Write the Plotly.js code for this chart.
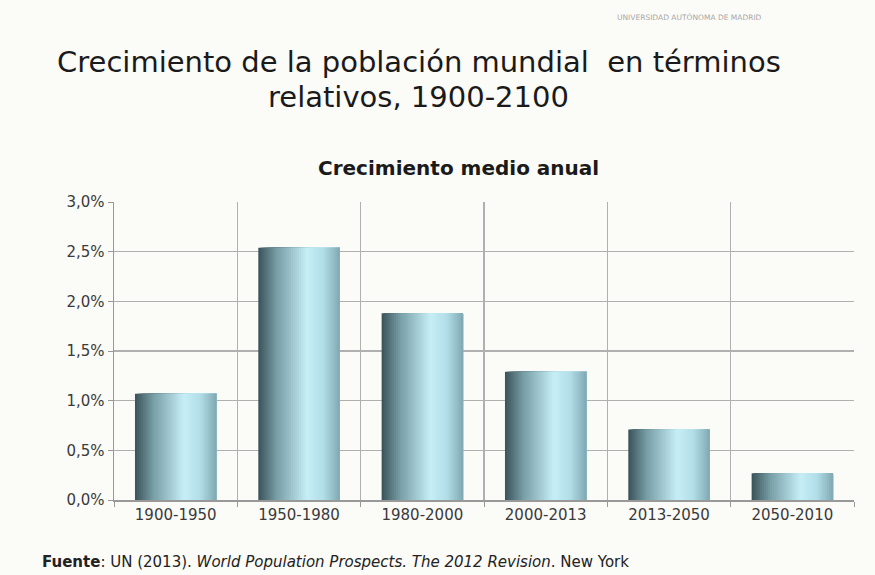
<!DOCTYPE html>
<html>
<head>
<meta charset="utf-8">
<script src="https://cdn.plot.ly/plotly-3.0.1.min.js"></script>
<style>
html,body{margin:0;padding:0;background:#fbfbf8;}
#chart{width:875px;height:575px;}
</style>
</head>
<body>
<div id="chart"></div>
<script>
// Data
const periods = ["1900-1950","1950-1980","1980-2000","2000-2013","2013-2050","2050-2010"];
const growthPct = [1.07, 2.54, 1.88, 1.29, 0.71, 0.27];
const yTickVals = [0, 0.5, 1.0, 1.5, 2.0, 2.5, 3.0];
const yTickLabels = ["0,0%","0,5%","1,0%","1,5%","2,0%","2,5%","3,0%"];

// Gradient stops across bar width (dark left -> light -> mid right)
function lerp(a,b,t){return Math.round(a+(b-a)*t);}
function gradColor(t){
  const stops=[[0,[58,82,88]],[0.22,[118,156,164]],[0.6,[198,238,246]],[0.8,[178,222,232]],[1,[128,168,178]]];
  for(let k=0;k<stops.length-1;k++){
    const [t0,c0]=stops[k],[t1,c1]=stops[k+1];
    if(t>=t0&&t<=t1){const u=(t-t0)/(t1-t0);return `rgb(${lerp(c0[0],c1[0],u)},${lerp(c0[1],c1[1],u)},${lerp(c0[2],c1[2],u)})`;}
  }
  return 'rgb(128,168,178)';
}
const N=40, barW=0.66, stripW=barW/N;
const traces=[];
for(let i=0;i<N;i++){
  traces.push({
    type:'bar', x:periods, y:growthPct,
    width:barW-i*stripW, offset:-barW/2+i*stripW,
    marker:{color:gradColor((i+0.5)/N), line:{width:0}},
    hoverinfo:'skip', showlegend:false
  });
}

const F='DejaVu Sans, Verdana, sans-serif';
const W=740;
function px(x){return (x-114)/W;}
const layout={
  width:875,height:575,
  paper_bgcolor:'#fbfbf8',plot_bgcolor:'#fbfbf8',
  margin:{l:114,r:21,t:202,b:75},
  barmode:'overlay',
  font:{family:F,color:'#333'},
  xaxis:{
    type:'category', tickson:'boundaries', showgrid:true, gridcolor:'#b0b0b0', gridwidth:1.5,
    showline:true, linecolor:'#999', linewidth:1.5,
    ticks:'outside', ticklen:5, tickcolor:'#999',
    tickfont:{size:15,color:'#3a3a3a',family:F}, range:[-0.5,5.5], fixedrange:true
  },
  yaxis:{
    range:[0,3.0], tickmode:'array', tickvals:yTickVals, ticktext:yTickLabels,
    showgrid:true, gridcolor:'#b0b0b0', gridwidth:1.5,
    showline:true, linecolor:'#999', linewidth:1.5,
    ticks:'outside', ticklen:5, tickcolor:'#999',
    tickfont:{size:15,color:'#3a3a3a',family:F}, zeroline:false, fixedrange:true
  },
  annotations:[
    {text:'Crecimiento de la población mundial  en términos', xref:'paper', yref:'paper',
     x:px(419), y:1, yshift:202-62, xanchor:'center', yanchor:'middle', showarrow:false,
     font:{size:29,color:'#1a1a1a',family:F}},
    {text:'relativos, 1900-2100', xref:'paper', yref:'paper',
     x:px(418), y:1, yshift:202-97, xanchor:'center', yanchor:'middle', showarrow:false,
     font:{size:29,color:'#1a1a1a',family:F}},
    {text:'<b>Crecimiento medio anual</b>', xref:'paper', yref:'paper',
     x:px(458), y:1, yshift:202-168, xanchor:'center', yanchor:'middle', showarrow:false,
     font:{size:20,color:'#1a1a1a',family:F}},
    {text:'UNIVERSIDAD AUTÓNOMA DE MADRID', xref:'paper', yref:'paper',
     x:px(689), y:1, yshift:202-17, xanchor:'center', yanchor:'middle', showarrow:false,
     font:{size:7.5,color:'#a8a8a8',family:F}},
    {text:'<b>Fuente</b>: UN (2013). <i>World Population Prospects. The 2012 Revision</i>. New York', xref:'paper', yref:'paper',
     x:px(40), y:0, yshift:-(562-500), xanchor:'left', yanchor:'middle', showarrow:false,
     font:{size:15,color:'#222',family:F}}
  ]
};
Plotly.newPlot('chart',traces,layout,{displayModeBar:false,staticPlot:true});
</script>
</body>
</html>
